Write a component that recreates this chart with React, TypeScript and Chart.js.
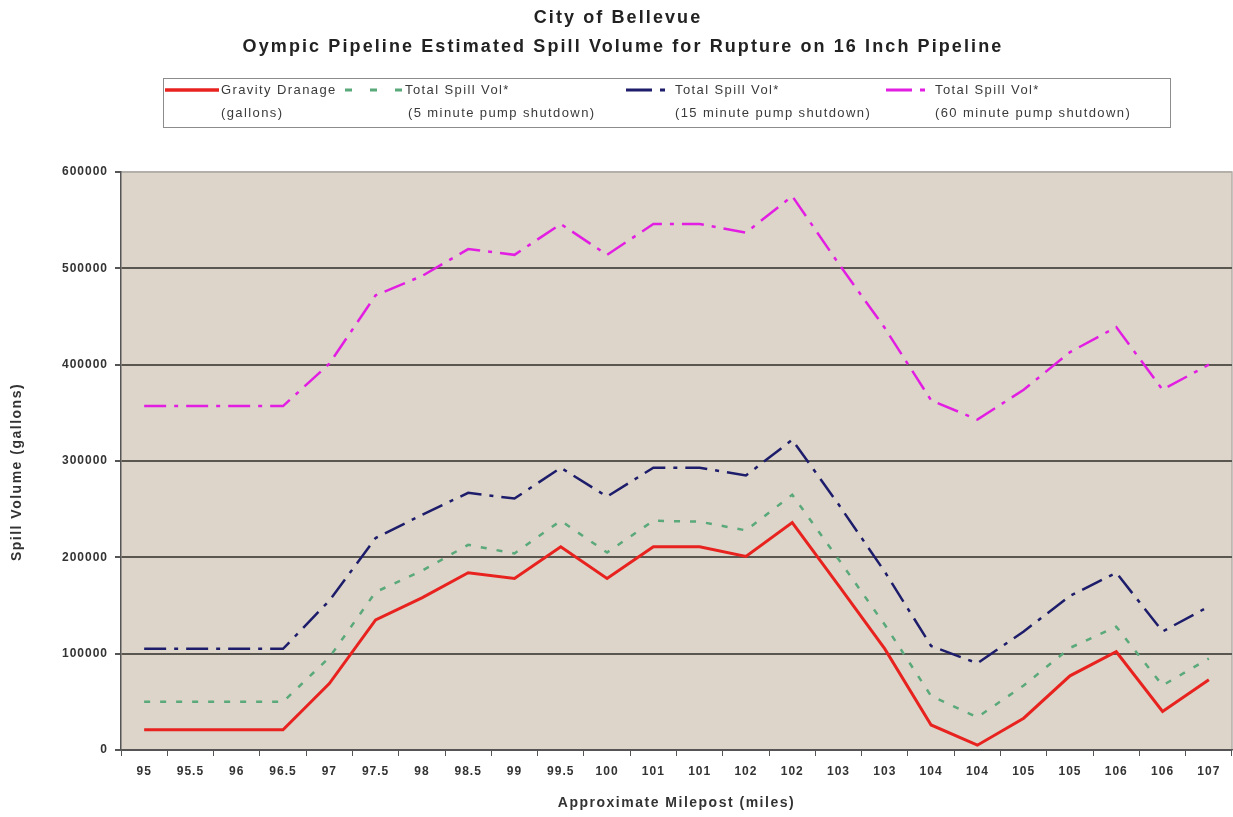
import React, { useEffect, useRef } from 'react';
import { Chart, registerables } from 'chart.js';

Chart.register(...registerables);

const titleLines = [
  'City of Bellevue',
  'Oympic Pipeline Estimated Spill Volume for Rupture on 16 Inch Pipeline',
];

const xAxisTitle = 'Approximate Milepost (miles)';
const yAxisTitle = 'Spill Volume (gallons)';

const mileposts = [
  '95', '95.5', '96', '96.5', '97', '97.5', '98', '98.5', '99', '99.5', '100', '101',
  '101', '102', '102', '103', '103', '104', '104', '105', '105', '106', '106', '107',
];

const gravityDrainage = [
  21000, 21000, 21000, 21000, 69000, 135000, 158000, 184000, 178000, 211000, 178000, 211000,
  211000, 201000, 236000, 171000, 105000, 26000, 5000, 33000, 77000, 102000, 40000, 73000,
];

const spill5min = [
  50000, 50000, 50000, 50000, 96000, 164000, 186000, 213000, 204000, 238000, 205000, 238000,
  237000, 228000, 265000, 198000, 130000, 56000, 34000, 67000, 106000, 128000, 67000, 95000,
];

const spill15min = [
  105000, 105000, 105000, 105000, 155000, 220000, 244000, 267000, 261000, 293000, 263000, 293000,
  293000, 285000, 322000, 255000, 185000, 108000, 90000, 123000, 160000, 184000, 123000, 149000,
];

const spill60min = [
  357000, 357000, 357000, 357000, 401000, 472000, 492000, 520000, 514000, 546000, 514000, 546000,
  546000, 537000, 575000, 505000, 438000, 363000, 343000, 374000, 413000, 439000, 374000, 400000,
];

const seriesNames = [
  ['Gravity Dranage', '(gallons)'],
  ['Total Spill Vol*', '(5 minute pump shutdown)'],
  ['Total Spill Vol*', '(15 minute pump shutdown)'],
  ['Total Spill Vol*', '(60 minute pump shutdown)'],
];

const yTicks = [0, 100000, 200000, 300000, 400000, 500000, 600000];

const COLORS = ['#e8231f', '#5aa97a', '#1d1d6b', '#e31ee3'];
const DASHES: number[][] = [[], [6, 10], [22, 8, 4, 8], [22, 8, 4, 8]];
const LEGEND_DASHES: number[][] = [[], [7, 18], [26, 8, 5, 30], [26, 8, 5, 30]];
const WIDTHS = [3, 2.5, 2.5, 2.5];
const FONT = '"Liberation Sans", Arial, sans-serif';

const bgPlugin = {
  id: 'bgPlugin',
  beforeDraw(chart: any) {
    const { ctx, chartArea: a } = chart;
    ctx.save();
    ctx.fillStyle = '#ffffff';
    ctx.fillRect(0, 0, chart.width, chart.height);
    ctx.fillStyle = '#ddd5c9';
    ctx.fillRect(a.left, a.top, a.right - a.left, a.bottom - a.top);
    ctx.strokeStyle = '#b4afa8';
    ctx.lineWidth = 1.5;
    ctx.beginPath();
    ctx.moveTo(a.left, a.top);
    ctx.lineTo(a.right, a.top);
    ctx.lineTo(a.right, a.bottom);
    ctx.stroke();
    ctx.restore();
    ctx.letterSpacing = '1px';
  },
};

const legendTitlePlugin = {
  id: 'legendTitlePlugin',
  afterDraw(chart: any) {
    const { ctx, chartArea: a } = chart;
    ctx.save();
    // titles
    ctx.letterSpacing = '2.1px';
    ctx.fillStyle = '#222';
    ctx.textAlign = 'center';
    ctx.textBaseline = 'middle';
    ctx.font = `bold 18px ${FONT}`;
    ctx.fillText(titleLines[0], 618, 18);
    ctx.fillText(titleLines[1], 623, 47);

    // axis titles
    ctx.letterSpacing = '1.5px';
    ctx.fillStyle = '#333';
    ctx.font = `bold 14px ${FONT}`;
    ctx.fillText(xAxisTitle, (a.left + a.right) / 2, 803);
    ctx.save();
    ctx.translate(17, 472);
    ctx.rotate(-Math.PI / 2);
    ctx.fillText(yAxisTitle, 0, 0);
    ctx.restore();

    // legend box
    ctx.letterSpacing = '1.4px';
    ctx.fillStyle = '#ffffff';
    ctx.fillRect(164, 79, 1006, 48);
    ctx.strokeStyle = '#8c8c8c';
    ctx.lineWidth = 1;
    ctx.strokeRect(163.5, 78.5, 1007, 49);

    const samples = [
      { x0: 165, x1: 219, tx: 221, tx2: 221 },
      { x0: 345, x1: 403, tx: 405, tx2: 408 },
      { x0: 626, x1: 668, tx: 675, tx2: 675 },
      { x0: 886, x1: 928, tx: 935, tx2: 935 },
    ];
    samples.forEach((s, i) => {
      ctx.strokeStyle = COLORS[i];
      ctx.lineWidth = WIDTHS[i] + 0.5;
      ctx.setLineDash(LEGEND_DASHES[i]);
      ctx.beginPath();
      ctx.moveTo(s.x0, 90);
      ctx.lineTo(s.x1, 90);
      ctx.stroke();
      ctx.setLineDash([]);
      ctx.fillStyle = '#3a3a3a';
      ctx.textAlign = 'left';
      ctx.font = `13px ${FONT}`;
      ctx.fillText(seriesNames[i][0], s.tx, 90);
      ctx.fillText(seriesNames[i][1], s.tx2, 113);
    });
    ctx.restore();
  },
};

export default function App() {
  const ref = useRef<HTMLCanvasElement>(null);

  useEffect(() => {
    const canvas = ref.current;
    if (!canvas) return;
    const series = [gravityDrainage, spill5min, spill15min, spill60min];
    const chart = new Chart(canvas, {
      type: 'line',
      data: {
        labels: mileposts,
        datasets: series.map((d, i) => ({
          label: seriesNames[i].join(' '),
          data: d,
          borderColor: COLORS[i],
          backgroundColor: COLORS[i],
          borderWidth: WIDTHS[i],
          borderDash: DASHES[i],
          pointRadius: 0,
          tension: 0,
          fill: false,
        })),
      },
      options: {
        animation: false,
        responsive: true,
        maintainAspectRatio: false,
        layout: { padding: { top: 172, right: 1, left: 0, bottom: 0 } },
        plugins: {
          legend: { display: false },
          title: { display: false },
          tooltip: { enabled: false },
        },
        scales: {
          x: {
            type: 'category',
            offset: true,
            grid: {
              display: true,
              drawOnChartArea: false,
              drawTicks: true,
              tickLength: 6,
              offset: true,
              color: '#555',
            },
            border: { display: true, color: '#555', width: 1.5 },
            ticks: {
              color: '#333',
              font: { family: FONT, size: 12, weight: 'bold' },
              padding: 8,
              maxRotation: 0,
              autoSkip: false,
            },
            title: { display: false },
            afterFit: (scale: any) => {
              scale.height = 67;
            },
          },
          y: {
            min: 0,
            max: 600000,
            afterBuildTicks: (scale: any) => {
              scale.ticks = yTicks.map((v) => ({ value: v }));
            },
            grid: {
              color: (c: any) => (c.tick && c.tick.value === 600000 ? '#b4afa8' : c.tick && c.tick.value === 0 ? '#555' : '#5a5650'),
              lineWidth: 2,
              tickLength: 6,
              tickColor: '#555',
            },
            border: { display: true, color: '#555', width: 1.5 },
            ticks: {
              color: '#333',
              font: { family: FONT, size: 12, weight: 'bold' },
              padding: 7,
              callback: (v: any) => String(v),
            },
            title: { display: false },
            afterFit: (scale: any) => {
              scale.width = 121;
            },
          },
        },
      },
      plugins: [bgPlugin, legendTitlePlugin],
    });
    return () => chart.destroy();
  }, []);

  return (
    <div style={{ position: 'fixed', left: 0, top: 0, width: 1233, height: 817, background: '#fff' }}>
      <canvas ref={ref} />
    </div>
  );
}
